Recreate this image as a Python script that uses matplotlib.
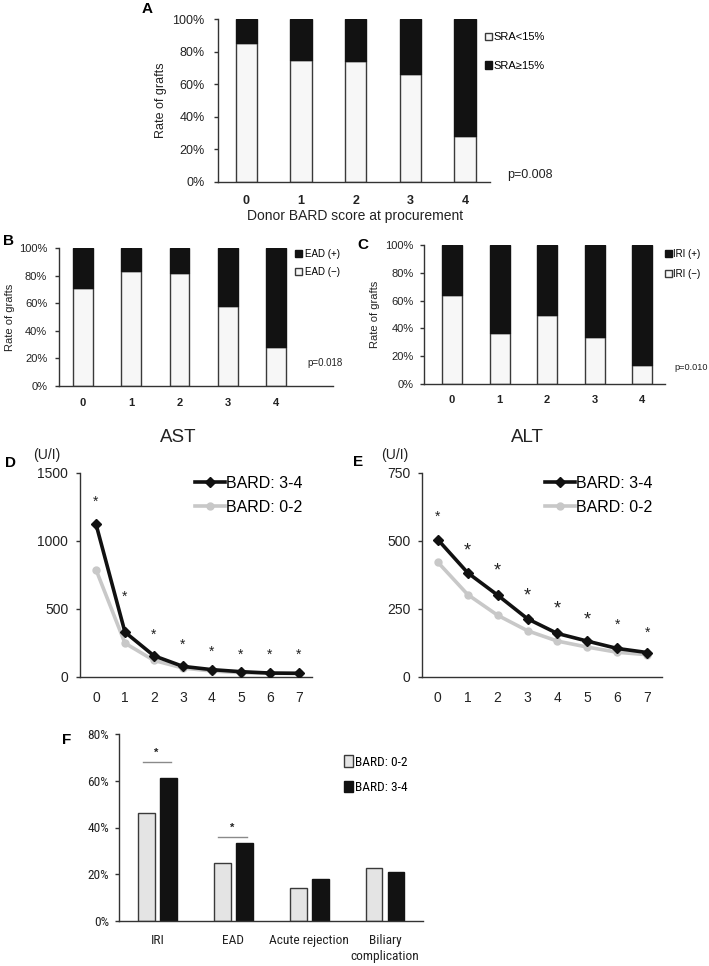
import matplotlib
matplotlib.use("Agg")
import matplotlib.pyplot as plt
from matplotlib import font_manager
import numpy as np

plt.rcParams['font.family'] = ['Liberation Sans', 'DejaVu Sans']

W, H = 709, 966

# ---------------- data ----------------
grades = ['0', '1', '2', '3', '4']
sra_low = [85, 75, 74, 66, 28]          # SRA<15% (white)
ead_neg = [71, 83, 82, 58, 28]          # EAD (-) (white)
iri_neg = [64, 37, 50, 34, 14]          # IRI (-) (white)

days = ['0', '1', '2', '3', '4', '5', '6', '7']
ast_high = [1125, 330, 156, 78, 54, 39, 29, 27]
ast_low = [790, 249, 122, 66, 44, 32, 27, 27]
alt_high = [505, 383, 301, 214, 160, 132, 105, 90]
alt_low = [422, 303, 227, 170, 132, 110, 91, 82]
ast_star_y = [1290, 590, 310, 237, 188, 164, 164, 164]
alt_star_y = [588, 462, 388, 297, 250, 211, 192, 164]

f_categories = ['IRI', 'EAD', 'Acute rejection', 'Biliary\ncomplication']
f_low = [46, 25, 14, 22.6]     # BARD 0-2
f_high = [61, 33.5, 18, 21]    # BARD 3-4
f_sig_y = [68, 36]             # significance bars (IRI, EAD)

WHITE = '#f7f7f7'
DARK = '#121212'
EDGE = '#3a3a3a'
LIGHTF = '#e4e4e4'
TXT = '#222222'

# condensed font for panel F if available
_names = {f.name for f in font_manager.fontManager.ttflist}
if 'Liberation Sans Narrow' in _names:
    F_FAM, F_SIZE = ['Liberation Sans Narrow', 'Liberation Sans'], 9.6
elif 'Roboto Condensed' in _names:
    F_FAM, F_SIZE = ['Roboto Condensed', 'Liberation Sans'], 9.6
else:
    F_FAM, F_SIZE = ['Liberation Sans', 'DejaVu Sans'], 8.2


def rect(x0, x1, ytop, ybot):
    return [x0 / W, 1 - ybot / H, (x1 - x0) / W, (ybot - ytop) / H]


def style(ax, ysize, ypad, tlen=3):
    for s in ['top', 'right']:
        ax.spines[s].set_visible(False)
    for s in ['left', 'bottom']:
        ax.spines[s].set_color('#333333')
        ax.spines[s].set_linewidth(1.0)
    ax.tick_params(axis='y', direction='out', length=tlen, width=1,
                   color='#333333', labelsize=ysize, pad=ypad, labelcolor=TXT)


def stacked(ax, white_vals, width):
    x = np.arange(len(grades))
    dark = [100 - v for v in white_vals]
    b1 = ax.bar(x, white_vals, width, color=WHITE, edgecolor=EDGE, linewidth=1.0, zorder=2)
    b2 = ax.bar(x, dark, width, bottom=white_vals, color=DARK, edgecolor=DARK, linewidth=1.0, zorder=2)
    ax.set_ylim(0, 100)
    ax.set_yticks([0, 20, 40, 60, 80, 100])
    ax.set_yticklabels(['%d%%' % v for v in [0, 20, 40, 60, 80, 100]])
    ax.set_xticks(x)
    return b1, b2


fig = plt.figure(figsize=(W / 100, H / 100), dpi=100)

# ---------------- A ----------------
axA = fig.add_axes(rect(218, 490, 19, 182))
b1, b2 = stacked(axA, sra_low, 0.39)
style(axA, 9, 6.5)
axA.set_xlim(-0.52, 4.46)
axA.set_xticklabels(grades, fontsize=9, fontweight='bold', color=TXT)
axA.tick_params(axis='x', length=0, pad=9)
axA.set_ylabel('Rate of grafts', fontsize=9, color=TXT, labelpad=4)
axA.legend([b1, b2], ['SRA<15%', 'SRA\u226515%'], loc='upper left',
           bbox_to_anchor=(485 / W, 1 - 32 / H), bbox_transform=fig.transFigure,
           frameon=False, fontsize=8, handlelength=0.6, handleheight=0.6,
           handletextpad=0.2, labelspacing=1.7, borderpad=0, borderaxespad=0)
fig.text(507 / W, 1 - 175 / H, 'p=0.008', fontsize=9, color=TXT, va='center')
fig.text(355 / W, 1 - 216 / H, 'Donor BARD score at procurement', fontsize=10,
         color=TXT, ha='center', va='center')
fig.text(147 / W, 1 - 9 / H, 'A', fontsize=11, fontweight='bold', ha='center', va='center')

# ---------------- B ----------------
axB = fig.add_axes(rect(59, 333, 248, 386))
b1, b2 = stacked(axB, ead_neg, 0.41)
style(axB, 8, 5.5)
axB.set_xlim(-0.5, 5.18)
axB.set_xticklabels(grades, fontsize=8, fontweight='bold', color=TXT)
axB.tick_params(axis='x', length=0, pad=8.5)
axB.set_ylabel('Rate of grafts', fontsize=8, color=TXT, labelpad=3)
axB.legend([b2, b1], ['EAD (+)', 'EAD (\u2212)'], loc='upper left',
           bbox_to_anchor=(295 / W, 1 - 249 / H), bbox_transform=fig.transFigure,
           frameon=False, fontsize=7, handlelength=0.7, handleheight=0.7,
           handletextpad=0.3, labelspacing=0.8, borderpad=0, borderaxespad=0)
fig.text(307 / W, 1 - 363 / H, 'p=0.018', fontsize=7, color=TXT, va='center')
fig.text(8 / W, 1 - 241 / H, 'B', fontsize=11, fontweight='bold', ha='center', va='center')

# ---------------- C ----------------
axC = fig.add_axes(rect(424, 665, 245, 384))
b1, b2 = stacked(axC, iri_neg, 0.42)
style(axC, 8, 4.5)
axC.set_xlim(-0.59, 4.48)
axC.set_xticklabels(grades, fontsize=8, fontweight='bold', color=TXT)
axC.tick_params(axis='x', length=0, pad=8)
axC.set_ylabel('Rate of grafts', fontsize=8, color=TXT, labelpad=4)
axC.legend([b2, b1], ['IRI (+)', 'IRI (\u2212)'], loc='upper left',
           bbox_to_anchor=(665 / W, 1 - 249 / H), bbox_transform=fig.transFigure,
           frameon=False, fontsize=7, handlelength=0.7, handleheight=0.7,
           handletextpad=0.15, labelspacing=1.0, borderpad=0, borderaxespad=0)
fig.text(674 / W, 1 - 367 / H, 'p=0.010', fontsize=6.6, color=TXT, va='center')
fig.text(363 / W, 1 - 245 / H, 'C', fontsize=11, fontweight='bold', ha='center', va='center')


# ---------------- D / E ----------------
def line_panel(ax, high, low, stars, star_sizes, ymax, yticks, xlim):
    x = np.arange(len(days))
    ax.plot(x, low, color='#c8c8c8', lw=2.6, marker='o', ms=5, mec='#c8c8c8',
            mfc='#c8c8c8', label='BARD: 0-2', zorder=2)
    ax.plot(x, high, color='#111111', lw=2.6, marker='D', ms=5, mec='#111111',
            mfc='#111111', label='BARD: 3-4', zorder=3)
    for xi, yi, s in zip(x, stars, star_sizes):
        ax.text(xi, yi, '*', fontsize=s, ha='center', va='center', color=TXT)
    ax.set_ylim(0, ymax)
    ax.set_yticks(yticks)
    ax.set_xlim(*xlim)
    ax.set_xticks(x)
    ax.set_xticklabels(days, fontsize=10, color=TXT)
    ax.tick_params(axis='x', length=0, pad=10)
    style(ax, 10, 5.5)
    h, l = ax.get_legend_handles_labels()
    return h[::-1], l[::-1]


axD = fig.add_axes(rect(80, 312, 473, 677))
h, l = line_panel(axD, ast_high, ast_low, ast_star_y, [10] * 8, 1500,
                  [0, 500, 1000, 1500], (-0.55, 7.45))
axD.legend(h, l, loc='upper left', bbox_to_anchor=(195 / W, 1 - 476 / H),
           bbox_transform=fig.transFigure, frameon=False, fontsize=11.5,
           handlelength=1.9, handletextpad=0.05, labelspacing=0.55,
           borderpad=0, borderaxespad=0)
fig.text(178 / W, 1 - 437 / H, 'AST', fontsize=13.5, ha='center', va='center', color=TXT)
fig.text(47 / W, 1 - 455 / H, '(U/I)', fontsize=10, ha='center', va='center', color=TXT)
fig.text(11 / W, 1 - 463 / H, 'D', fontsize=11, fontweight='bold', ha='center', va='center')

axE = fig.add_axes(rect(422, 662, 473, 677))
h, l = line_panel(axE, alt_high, alt_low, alt_star_y, [10, 13, 13, 13, 13, 13, 10, 10], 750,
                  [0, 250, 500, 750], (-0.53, 7.5))
axE.legend(h, l, loc='upper left', bbox_to_anchor=(545 / W, 1 - 476 / H),
           bbox_transform=fig.transFigure, frameon=False, fontsize=11.5,
           handlelength=1.9, handletextpad=0.05, labelspacing=0.55,
           borderpad=0, borderaxespad=0)
fig.text(527 / W, 1 - 437 / H, 'ALT', fontsize=13.5, ha='center', va='center', color=TXT)
fig.text(395 / W, 1 - 455 / H, '(U/I)', fontsize=10, ha='center', va='center', color=TXT)
fig.text(358 / W, 1 - 462 / H, 'E', fontsize=11, fontweight='bold', ha='center', va='center')

# ---------------- F ----------------
axF = fig.add_axes(rect(119, 423, 734, 921))
xf = np.arange(len(f_categories))
bw, off = 0.22, 0.145
bl = axF.bar(xf - off, f_low, bw, color=LIGHTF, edgecolor=EDGE, linewidth=1.0, zorder=2)
bh = axF.bar(xf + off, f_high, bw, color=DARK, edgecolor=DARK, linewidth=1.0, zorder=2)
axF.set_ylim(0, 80)
axF.set_xlim(-0.51, 3.5)
axF.set_yticks([0, 20, 40, 60, 80])
axF.set_yticklabels(['%d%%' % v for v in [0, 20, 40, 60, 80]], family=F_FAM)
axF.set_xticks(xf)
axF.set_xticklabels(f_categories, family=F_FAM, fontsize=F_SIZE, color=TXT, linespacing=1.3)
axF.tick_params(axis='x', length=0, pad=9.5)
style(axF, F_SIZE, 4)
for xi, yi in zip(xf[:2], f_sig_y):
    axF.plot([xi - 0.2, xi + 0.18], [yi, yi], color='#8a8a8a', lw=1.0)
    axF.text(xi - 0.02, yi + 4, '*', fontsize=8, fontweight='bold', ha='center',
             va='center', color=TXT)
axF.legend([bl, bh], ['BARD: 0-2', 'BARD: 3-4'], loc='upper left',
           bbox_to_anchor=(344 / W, 1 - 755 / H), bbox_transform=fig.transFigure,
           frameon=False, prop={'family': F_FAM, 'size': F_SIZE}, handlelength=0.65,
           handleheight=1.0, handletextpad=0.2, labelspacing=0.9,
           borderpad=0, borderaxespad=0)
fig.text(67 / W, 1 - 740 / H, 'F', fontsize=11, fontweight='bold', ha='center', va='center')

fig.savefig('out.png', dpi=100)
